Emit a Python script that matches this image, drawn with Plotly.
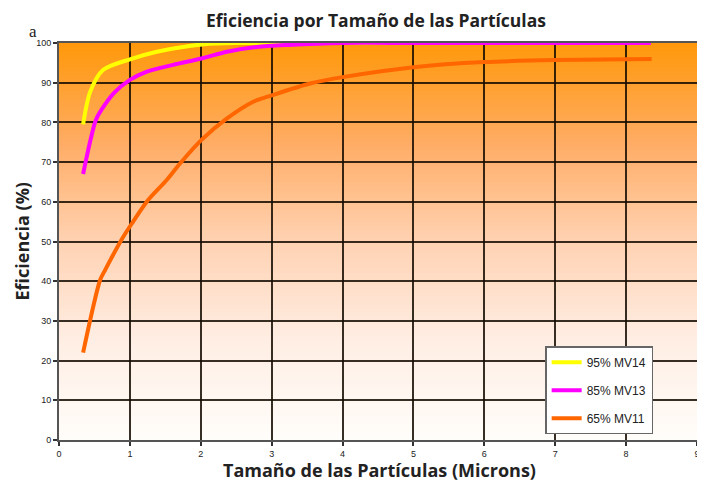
import plotly.graph_objects as go

# ---- data ----
x_mv14 = [0.34, 0.44, 0.62, 1.0, 1.38, 1.75, 2.05, 2.5, 3.0, 4.0, 5.0, 6.0, 7.0, 8.35]
y_mv14 = [79.5, 87.7, 93.2, 95.9, 97.8, 99.0, 99.7, 100, 100, 100, 100, 100, 100, 100]

x_mv13 = [0.34, 0.45, 0.53, 0.77, 1.0, 1.24, 1.61, 2.01, 2.37, 2.79, 3.23, 4.0, 5.0, 6.0, 7.0, 8.35]
y_mv13 = [67.0, 76.0, 81.0, 87.3, 90.7, 92.8, 94.5, 96.1, 97.8, 99.0, 99.5, 100, 100, 100, 100, 100]

x_mv11 = [0.34, 0.58, 0.65, 0.88, 1.03, 1.26, 1.52, 1.71, 2.01, 2.37, 2.74, 3.0, 3.54, 4.0, 5.0, 6.0, 7.0, 8.36]
y_mv11 = [22.0, 40.3, 42.8, 50.4, 54.6, 60.5, 65.5, 69.7, 75.6, 81.0, 85.2, 86.8, 89.8, 91.4, 93.9, 95.2, 95.7, 96.0]

series_names = ["95% MV14", "85% MV13", "65% MV11"]
series_colors = ["#FFFF00", "#FF00FF", "#FF6600"]

title_text = "Eficiencia por Tamaño de las Partículas"
x_title = "Tamaño de las Partículas (Microns)"
y_title = "Eficiencia (%)"

# background gradient stops (value, rgb)
grad_stops = [(0, (255, 253, 250)), (25, (255, 238, 228)), (50, (255, 210, 178)),
              (75, (255, 172, 100)), (100, (255, 152, 10))]


def grad_color(v):
    for (v0, c0), (v1, c1) in zip(grad_stops[:-1], grad_stops[1:]):
        if v0 <= v <= v1:
            t = (v - v0) / (v1 - v0)
            c = [round(a + (b - a) * t) for a, b in zip(c0, c1)]
            return "rgb(%d,%d,%d)" % tuple(c)
    return "rgb(255,255,255)"


shapes = []
n = 100
for i in range(n):
    y0 = 100 * i / n
    y1 = 100 * (i + 1) / n
    shapes.append(dict(type="rect", xref="paper", yref="y", x0=0, x1=1, y0=y0,
                       y1=min(100, y1 + 0.6),
                       fillcolor=grad_color((y0 + y1) / 2), line=dict(width=0), layer="below"))

fig = go.Figure()
for xs, ys, name, col in zip([x_mv14, x_mv13, x_mv11], [y_mv14, y_mv13, y_mv11],
                             series_names, series_colors):
    fig.add_trace(go.Scatter(x=xs, y=ys, mode="lines", name=name, legendgroup=name,
                             line=dict(color=col, width=4, shape="spline", smoothing=0.8)))

axis_common = dict(showgrid=True, gridcolor="rgba(20,10,0,0.85)", gridwidth=1.5,
                   showline=True, linecolor="#555555", linewidth=2, mirror=True,
                   ticks="outside", ticklen=4, tickcolor="#333333", tickwidth=1.5,
                   zeroline=False, automargin=False,
                   tickfont=dict(family="Liberation Sans, Arial", size=9, color="#222222"))

title_font = dict(family="Open Sans, Lato, sans-serif", size=17.5, color="#222222")
axis_title_font = dict(family="Open Sans, Lato, sans-serif", size=18, color="#222222")

# page body adds an 8px offset, so the figure is 8px smaller on each axis
fig.update_layout(
    width=697, height=475,
    margin=dict(l=51, r=8, t=35, b=43, autoexpand=False),
    paper_bgcolor="white",
    plot_bgcolor="white",
    shapes=shapes,
    title=dict(text="<b>" + title_text + "</b>", x=0.528, xanchor="center", y=0.972, yanchor="middle",
               font=title_font),
    xaxis=dict(range=[0, 9], dtick=1, tick0=0, **axis_common),
    yaxis=dict(range=[0, 100], dtick=10, tick0=0, **axis_common),
    legend=dict(x=0.762, y=0.236, xanchor="left", yanchor="top",
                bgcolor="white", bordercolor="#666666", borderwidth=1.5,
                font=dict(family="Liberation Sans, Arial", size=12, color="#222222"),
                itemwidth=30, traceorder="grouped", tracegroupgap=9),
    showlegend=True,
    annotations=[
        dict(text="a", xref="paper", yref="paper", x=-0.041, y=1.028, xanchor="center",
             yanchor="middle", showarrow=False,
             font=dict(family="Liberation Serif, serif", size=17, color="#222222")),
        dict(text="<b>" + x_title + "</b>", xref="paper", yref="paper", x=0.503, y=-0.076,
             xanchor="center", yanchor="middle", showarrow=False, font=axis_title_font),
        dict(text="<b>" + y_title + "</b>", xref="paper", yref="paper", x=-0.058, y=0.5,
             xanchor="center", yanchor="middle", showarrow=False, textangle=-90, font=axis_title_font),
    ],
)

fig.write_html("out.html")
